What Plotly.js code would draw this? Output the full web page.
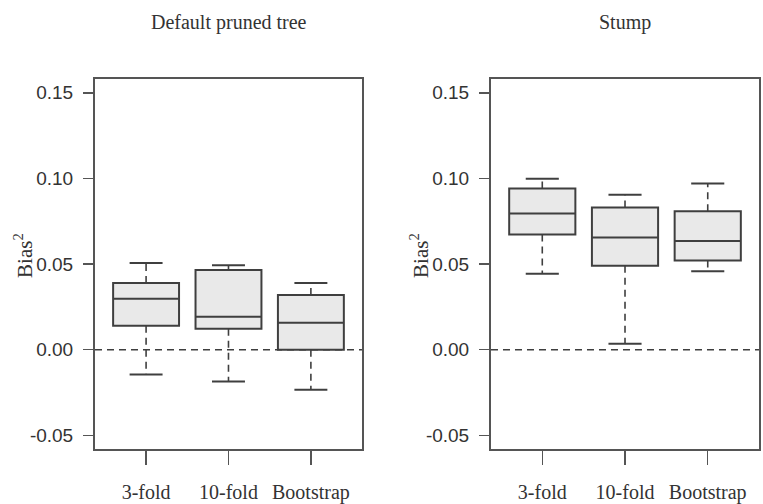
<!DOCTYPE html>
<html>
<head>
<meta charset="utf-8">
<script src="https://cdn.plot.ly/plotly-3.0.1.min.js"></script>
<style>html,body{margin:0;padding:0;background:#fff;}#chart{width:763px;height:504px;}</style>
</head>
<body>
<div id="chart"></div>
<script>
// Category labels
const methods = ['3-fold', '10-fold', 'Bootstrap'];
const methodPos = [0, 1, 2];

// Panel 1: Default pruned tree (Bias^2)
const prunedLower  = [-0.0145, -0.0186, -0.0234];
const prunedQ1     = [0.0140, 0.0122, 0.0000];
const prunedMedian = [0.0297, 0.0192, 0.0157];
const prunedQ3     = [0.0390, 0.0465, 0.0320];
const prunedUpper  = [0.0506, 0.0494, 0.0390];

// Panel 2: Stump (Bias^2)
const stumpLower  = [0.0444, 0.0035, 0.0458];
const stumpQ1     = [0.0673, 0.0490, 0.0521];
const stumpMedian = [0.0795, 0.0655, 0.0635];
const stumpQ3     = [0.0942, 0.0831, 0.0808];
const stumpUpper  = [0.0998, 0.0905, 0.0970];

// Axis ticks
const yTickVals = [-0.05, 0.00, 0.05, 0.10, 0.15];
const yTickText = ['-0.05', '0.00', '0.05', '0.10', '0.15'];

const panelTitles = ['Default pruned tree', 'Stump'];

const lineCol = '#3f3f3f';
const capHalf = 0.2;
const serif = 'Liberation Serif, Times New Roman, serif';

function panelTraces(lower, q1, med, q3, upper, xa, ya) {
  const wx = [], wy = [], cx = [], cy = [];
  methodPos.forEach((p, i) => {
    wx.push(p, p, null, p, p, null);
    wy.push(q3[i], upper[i], null, q1[i], lower[i], null);
    cx.push(p - capHalf, p + capHalf, null, p - capHalf, p + capHalf, null);
    cy.push(upper[i], upper[i], null, lower[i], lower[i], null);
  });
  return [
    {type: 'scatter', mode: 'lines', x: wx, y: wy, xaxis: xa, yaxis: ya,
     line: {color: lineCol, width: 1.6, dash: '7px,5px'}, hoverinfo: 'skip', showlegend: false},
    {type: 'scatter', mode: 'lines', x: cx, y: cy, xaxis: xa, yaxis: ya,
     line: {color: lineCol, width: 2}, hoverinfo: 'skip', showlegend: false},
    {type: 'box', x: methodPos, q1: q1, median: med, q3: q3,
     lowerfence: q1, upperfence: q3, width: 0.8, whiskerwidth: 0,
     xaxis: xa, yaxis: ya, fillcolor: '#e9e9e9',
     line: {color: lineCol, width: 2}, showlegend: false}
  ];
}

const data = [
  ...panelTraces(prunedLower, prunedQ1, prunedMedian, prunedQ3, prunedUpper, 'x', 'y'),
  ...panelTraces(stumpLower, stumpQ1, stumpMedian, stumpQ3, stumpUpper, 'x2', 'y2')
];

const frameCol = '#555555';
function xAxis(domain, anchor) {
  return {
    domain: domain, anchor: anchor, range: [-0.62, 2.62], zeroline: false, showgrid: false,
    tickvals: methodPos, ticktext: methods, ticks: 'outside', ticklen: 14, tickwidth: 1.5,
    tickcolor: frameCol, showline: true, mirror: true, linecolor: frameCol, linewidth: 2,
    ticklabelstandoff: 10,
    tickfont: {family: serif, size: 20, color: '#333'}
  };
}
function yAxis(anchor) {
  return {
    domain: [0.109, 0.843], anchor: anchor, range: [-0.058, 0.158], zeroline: false, showgrid: false,
    tickvals: yTickVals, ticktext: yTickText, ticks: 'outside', ticklen: 10, tickwidth: 1.5,
    tickcolor: frameCol, showline: true, mirror: true, linecolor: frameCol, linewidth: 2,
    ticklabelstandoff: 6,
    tickfont: {family: 'Liberation Sans, Arial, sans-serif', size: 19, color: '#333'}
  };
}

const layout = {
  width: 763, height: 504,
  margin: {l: 0, r: 0, t: 0, b: 0},
  paper_bgcolor: '#ffffff', plot_bgcolor: '#ffffff',
  showlegend: false,
  xaxis: xAxis([0.1245, 0.4744], 'y'),
  yaxis: yAxis('x'),
  xaxis2: xAxis([0.6435, 0.9948], 'y2'),
  yaxis2: yAxis('x2'),
  shapes: [
    {type: 'line', xref: 'x domain', yref: 'y', x0: 0, x1: 1, y0: 0, y1: 0,
     line: {color: lineCol, width: 1.6, dash: '7px,5px'}, layer: 'below'},
    {type: 'line', xref: 'x2 domain', yref: 'y2', x0: 0, x1: 1, y0: 0, y1: 0,
     line: {color: lineCol, width: 1.6, dash: '7px,5px'}, layer: 'below'}
  ],
  annotations: [
    {text: panelTitles[0], xref: 'paper', yref: 'paper', x: 0.2995, y: 0.956,
     xanchor: 'center', yanchor: 'middle', showarrow: false,
     font: {family: serif, size: 20, color: '#333'}},
    {text: panelTitles[1], xref: 'paper', yref: 'paper', x: 0.819, y: 0.956,
     xanchor: 'center', yanchor: 'middle', showarrow: false,
     font: {family: serif, size: 20, color: '#333'}},
    {text: 'Bias<sup>2</sup>', xref: 'paper', yref: 'paper', x: 0.030, y: 0.494, textangle: -90,
     xanchor: 'center', yanchor: 'middle',
     showarrow: false, font: {family: serif, size: 21, color: '#333'}},
    {text: 'Bias<sup>2</sup>', xref: 'paper', yref: 'paper', x: 0.549, y: 0.494, textangle: -90,
     xanchor: 'center', yanchor: 'middle',
     showarrow: false, font: {family: serif, size: 21, color: '#333'}}
  ]
};

Plotly.newPlot('chart', data, layout, {staticPlot: true, displayModeBar: false});
</script>
</body>
</html>
